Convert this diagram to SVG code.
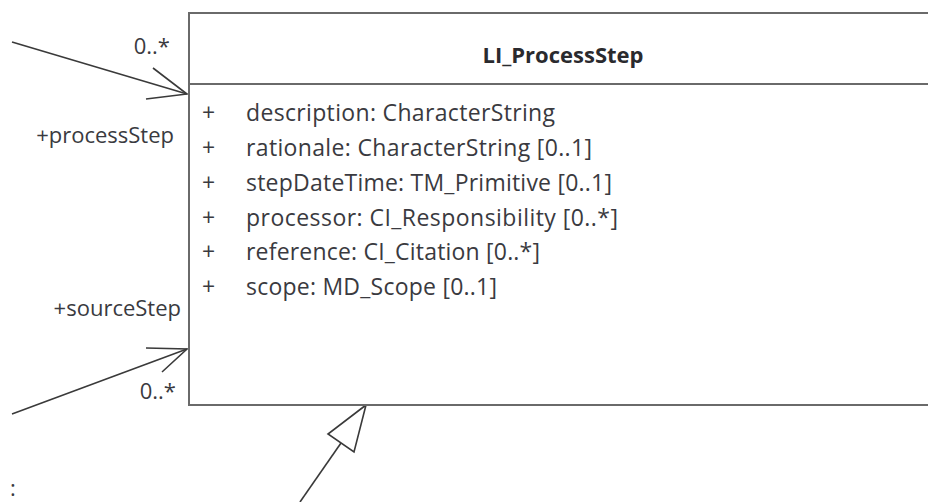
<svg xmlns="http://www.w3.org/2000/svg" width="928" height="502" viewBox="0 0 928 502">
  <style>
    .box { fill: #ffffff; stroke: #6a6a6a; stroke-width: 2; }
    .edge { fill: none; stroke: #3a3a3a; stroke-width: 1.6; }
    .txt { font-family: "Open Sans", "Liberation Sans", sans-serif; font-size: 22px; fill: #3a3a40; }
    .attr { font-size: 23px; }
    .title { font-family: "Open Sans", "Liberation Sans", sans-serif; font-size: 22px; font-weight: bold; fill: #2a2a2e; }
  </style>
  <rect width="928" height="502" fill="#ffffff"/>

  <g id="connectors">
    <!-- processStep association -->
    <line class="edge" x1="12" y1="42" x2="187" y2="94"/>
    <polyline class="edge" points="153,68 187,94 146,99"/>
    <!-- sourceStep association -->
    <line class="edge" x1="12" y1="414" x2="187" y2="349"/>
    <polyline class="edge" points="146,348 187,349 162,372"/>
    <!-- generalization -->
    <line class="edge" x1="341" y1="443" x2="300" y2="502"/>
    <polygon class="edge" fill="#ffffff" points="366,405 328,434 354,452"/>
  </g>

  <g id="LI_ProcessStep">
    <rect class="box" x="189" y="13" width="760" height="392"/>
    <line class="box" x1="189" y1="84" x2="949" y2="84"/>
    <text class="title" x="563" y="63" text-anchor="middle">LI_ProcessStep</text>
    <g class="txt attr">
      <text x="202" y="121">+</text><text x="246" y="121" textLength="309" lengthAdjust="spacing">description: CharacterString</text>
      <text x="202" y="156">+</text><text x="246" y="156" textLength="346" lengthAdjust="spacing">rationale: CharacterString [0..1]</text>
      <text x="202" y="191">+</text><text x="246" y="191" textLength="366" lengthAdjust="spacing">stepDateTime: TM_Primitive [0..1]</text>
      <text x="202" y="226">+</text><text x="246" y="226" textLength="372" lengthAdjust="spacing">processor: CI_Responsibility [0..*]</text>
      <text x="202" y="260">+</text><text x="246" y="260" textLength="294" lengthAdjust="spacing">reference: CI_Citation [0..*]</text>
      <text x="202" y="295">+</text><text x="246" y="295" textLength="251" lengthAdjust="spacing">scope: MD_Scope [0..1]</text>
    </g>
  </g>

  <g id="labels" class="txt">
    <text x="170" y="54" text-anchor="end">0..*</text>
    <text x="174" y="143" text-anchor="end">+processStep</text>
    <text x="181" y="316" text-anchor="end">+sourceStep</text>
    <text x="176" y="399" text-anchor="end">0..*</text>
    <text x="10" y="496">:</text>
  </g>
</svg>
